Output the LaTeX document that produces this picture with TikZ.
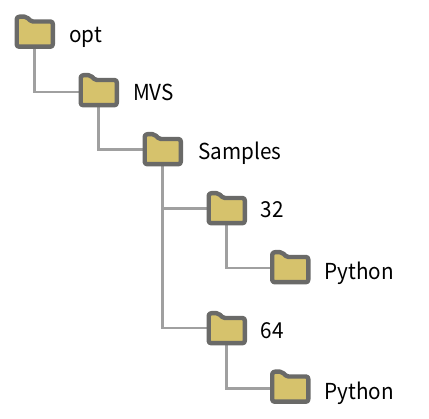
\documentclass[tikz,border=0pt]{standalone}
\usepackage{fontspec}
\setmainfont[FakeStretch=0.94]{Noto Sans CJK JP}
\definecolor{foldfill}{HTML}{D6C26C}
\definecolor{foldline}{HTML}{6A6A68}
\definecolor{linkline}{HTML}{A0A0A0}
\tikzset{
  fbox/.style={inner sep=0pt,minimum width=40pt,minimum height=28pt},
  folderline/.style={draw=foldline,fill=foldfill,line width=4.4pt,line join=round},
  link/.style={draw=linkline,line width=2.3pt},
  lbl/.style={inner sep=0pt,anchor=base west,font=\fontsize{22}{26}\selectfont,text=black}
}
\newcommand\folder[4]{%
  \node[fbox] (#1) at ({#2+20},#4) {};
}
\newcommand\foldershape[2]{%
  \begin{scope}[shift={(#1,#2)}]
    \path[folderline] (2.2,5) .. controls (2.2,3.2) and (3.2,2.2) .. (5,2.2) -- (10,2.2)
      .. controls (11.5,2.2) and (12.5,2.8) .. (13.5,3.8) -- (15.5,5.8) .. controls (16.3,6.6) and (17,7) .. (18.5,7)
      -- (35.8,7) .. controls (37.4,7) and (38.3,7.9) .. (38.3,9.5) -- (38.3,29.7)
      .. controls (38.3,31.3) and (37.4,32.2) .. (35.8,32.2) -- (4.7,32.2)
      .. controls (3.1,32.2) and (2.2,31.3) .. (2.2,29.7) -- cycle;
  \end{scope}
}
\begin{document}
\begin{tikzpicture}[x=1pt,y=-1pt]
\useasboundingbox (0,0) rectangle (429,419);
\folder{opt}{14.5}{14.5}{33}
\folder{mvs}{78.5}{73}{92}
\folder{samples}{142.5}{132}{149.5}
\folder{a}{206.5}{191}{208.5}
\folder{b}{270}{250}{268}
\folder{c}{206.5}{311}{328}
\folder{d}{270}{369.5}{388.5}
\draw[link] (opt.center) |- (mvs.center);
\draw[link] (mvs.center) |- (samples.center);
\draw[link] (samples.center) |- (a.center);
\draw[link] (samples.center) |- (c.center);
\draw[link] (a.center) |- (b.center);
\draw[link] (c.center) |- (d.center);
\foldershape{14.5}{14.5}
\foldershape{78.5}{73}
\foldershape{142.5}{132}
\foldershape{206.5}{191}
\foldershape{270}{250}
\foldershape{206.5}{311}
\foldershape{270}{369.5}
\node[lbl] (t1) at (69,43) {opt};
\node[lbl] (t2) at (133,101) {MVS};
\node[lbl] (t3) at (198,160) {Samples};
\node[lbl] (t4) at (260.5,218) {32};
\node[lbl] (t5) at (324.5,280) {Python};
\node[lbl] (t6) at (260.5,338.5) {64};
\node[lbl] (t7) at (324.5,400) {Python};
\end{tikzpicture}
\end{document}
